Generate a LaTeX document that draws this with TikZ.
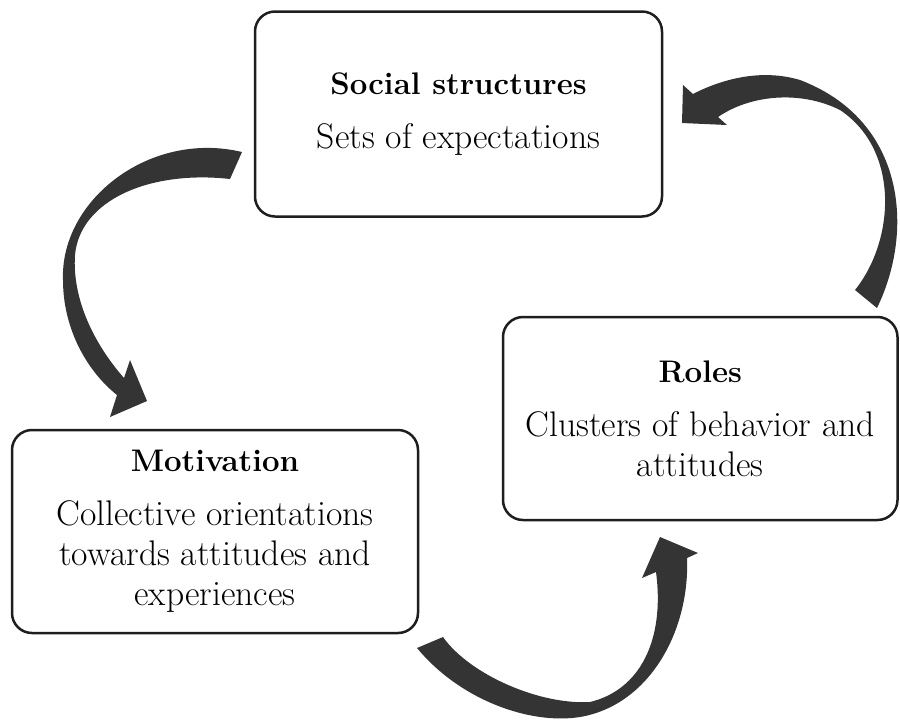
\documentclass[tikz,border=0pt]{standalone}
\definecolor{arrowgray}{RGB}{52,52,52}
\definecolor{boxline}{RGB}{30,30,30}
\tikzset{
  box/.style={draw=boxline, line width=1.25pt, rounded corners=10pt, fill=white,
    align=center, inner sep=0pt, outer sep=0pt, font=\fontsize{17.8}{20}\selectfont},
  blockarrow/.style={fill=arrowgray, draw=none},
}
\newcommand{\boxtitle}[1]{{\fontsize{15.6}{20}\selectfont\bfseries #1}\\[7pt]}
\begin{document}
\begin{tikzpicture}[x=0.5pt,y=-0.5pt]
\useasboundingbox (0,0) rectangle (900,719);

% curved block arrows
\fill[blockarrow] (242,152) .. controls (150,130) and (60,200) .. (63,280)
  .. controls (63,330) and (88,372) .. (117,395) -- (110,417) -- (147,401) -- (130,360) -- (124,378)
  .. controls (95,345) and (72,300) .. (75,255)
  .. controls (80,200) and (150,170) .. (230,179) -- cycle;

\fill[blockarrow] (877,308) .. controls (915,230) and (905,120) .. (800,80)
  .. controls (760,68) and (720,80) .. (693,94) -- (683,85) -- (682,123) -- (727,125) -- (718,117)
  .. controls (750,95) and (800,90) .. (840,110)
  .. controls (900,150) and (895,240) .. (855,290) -- cycle;

\fill[blockarrow] (417,648) .. controls (460,700) and (530,725) .. (580,717)
  .. controls (650,705) and (690,630) .. (687,558) -- (698,553) -- (660,537) -- (642,578) -- (656,572)
  .. controls (665,640) and (640,690) .. (590,702)
  .. controls (540,705) and (470,675) .. (443,637) -- cycle;

% boxes
\node[box, minimum width=203.5pt, minimum height=102.5pt] (social) at (458.5,114)
  {\boxtitle{Social structures}Sets of expectations};
\node[box, minimum width=203pt, minimum height=101.5pt] (motivation) at (215,531.5)
  {\boxtitle{Motivation}Collective orientations\\towards attitudes and\\experiences};
\node[box, minimum width=197.25pt, minimum height=101.5pt] (roles) at (700.25,418.5)
  {\boxtitle{Roles}Clusters of behavior and\\attitudes};
\end{tikzpicture}
\end{document}
